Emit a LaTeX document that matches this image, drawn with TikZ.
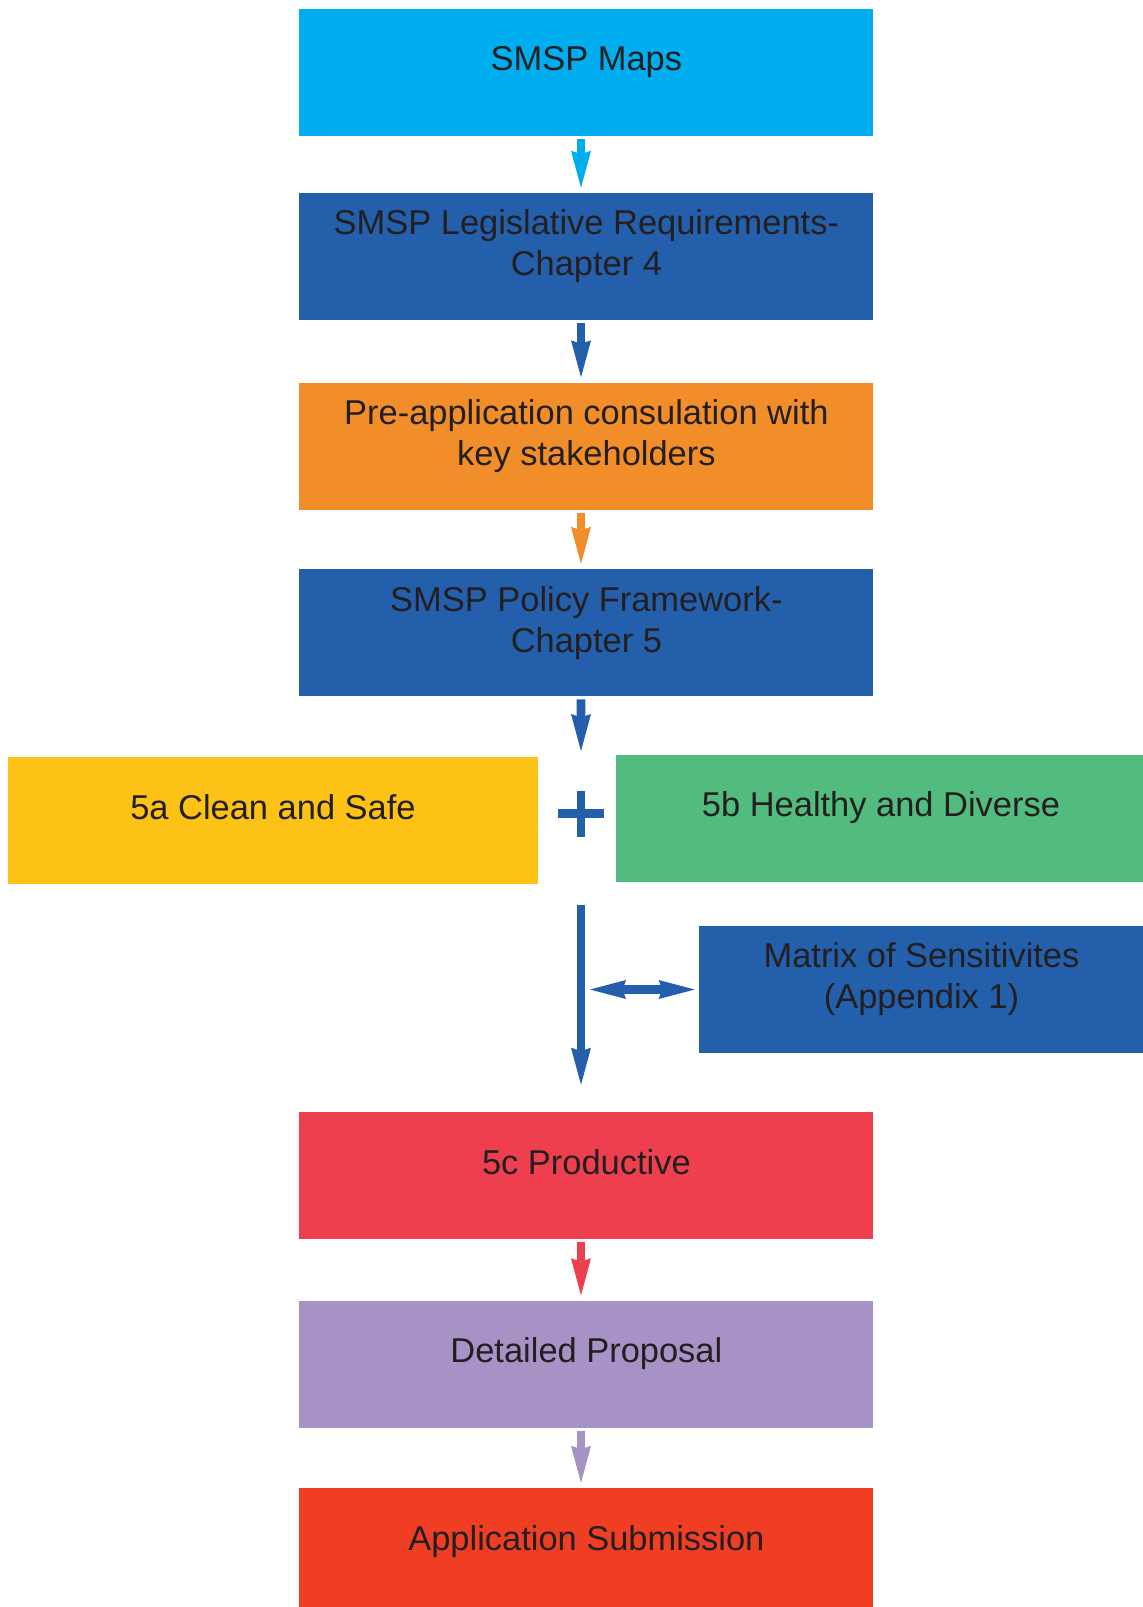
\documentclass[tikz,border=0pt]{standalone}
\usepackage{fontspec}
\setmainfont{Liberation Sans}
\usepackage{xcolor}
\usetikzlibrary{arrows.meta, positioning}
\definecolor{MapCyan}{HTML}{00AEEF}
\definecolor{PlanBlue}{HTML}{245FAC}
\definecolor{ConsultOrange}{HTML}{F28E2A}
\definecolor{CleanYellow}{HTML}{FCC316}
\definecolor{HealthyGreen}{HTML}{52BC7E}
\definecolor{ProductiveRed}{HTML}{EE3F4E}
\definecolor{ProposalLilac}{HTML}{A792C6}
\definecolor{SubmitRed}{HTML}{EF3E24}
\definecolor{BoxText}{HTML}{231F20}

\begin{document}
\begin{tikzpicture}[
  sbox/.style={fill=#1, draw=none, inner sep=0pt, minimum height=3.175cm, align=center, text=BoxText, font=\fontsize{24.5}{29.1}\selectfont, text depth=0.68cm},
  stagebox/.style={sbox=#1, minimum width=14.35cm},
  sidebox/.style={sbox=#1, minimum width=13.25cm},
  flowarrow/.style={-{Stealth[length=0.925cm, width=0.5cm, inset=0.08cm, line width=0pt 0]}, line width=0.22cm, color=#1, shorten <=0.075cm, shorten >=0.125cm},
  linkarrow/.style={{Stealth[length=0.9cm, width=0.475cm, inset=0.08cm, line width=0pt 0]}-{Stealth[length=0.9cm, width=0.475cm, inset=0.08cm, line width=0pt 0]}, line width=0.22cm, color=PlanBlue}
]
\useasboundingbox (0,0) rectangle (28.575,-40.175);

\node[stagebox=MapCyan] (maps) at (14.66,-1.8) {SMSP Maps};
\node[stagebox=PlanBlue, below=1.425cm of maps] (legis) {SMSP Legislative Requirements-\\Chapter 4};
\node[stagebox=ConsultOrange, below=1.55cm of legis] (consult) {Pre-application consulation with\\key stakeholders};
\node[stagebox=PlanBlue, below=1.475cm of consult] (policy) {SMSP Policy Framework-\\Chapter 5};
\node[sidebox=CleanYellow] (clean) at (6.825,-20.5125) {5a Clean and Safe};
\node[sidebox=HealthyGreen] (healthy) at (22.025,-20.45) {5b Healthy and Diverse};
\node[sbox=PlanBlue, minimum width=11.125cm] (matrix) at (23.0375,-24.7375) {Matrix of Sensitivites\\(Appendix 1)};
\node[stagebox=ProductiveRed] (productive) at (14.66,-29.3875) {5c Productive};
\node[stagebox=ProposalLilac, below=1.525cm of productive] (proposal) {Detailed Proposal};
\node[stagebox=SubmitRed, below=1.5cm of proposal] (submit) {Application Submission};

\coordinate (rowtop) at (14.525,-18.9);
\coordinate (plus) at (14.525,-20.3375);
\coordinate (join) at (14.525,-22.625);

\draw[flowarrow=MapCyan] ([xshift=-0.135cm]maps.south) -- ([xshift=-0.135cm]legis.north);
\draw[flowarrow=PlanBlue] ([xshift=-0.135cm]legis.south) -- ([xshift=-0.135cm]consult.north);
\draw[flowarrow=ConsultOrange] ([xshift=-0.135cm]consult.south) -- ([xshift=-0.135cm]policy.north);
\draw[flowarrow=PlanBlue] ([xshift=-0.135cm]policy.south) -- (rowtop);
\draw[PlanBlue, line width=0.21cm] ([xshift=-0.575cm]plus) -- ([xshift=0.575cm]plus) ([yshift=-0.575cm]plus) -- ([yshift=0.575cm]plus);
\draw[flowarrow=PlanBlue, shorten <=0pt, shorten >=0.675cm] (join) -- (join |- productive.north);
\draw[linkarrow, shorten <=0.225cm, shorten >=0.1cm] (join |- matrix.west) -- (matrix.west);
\draw[flowarrow=ProductiveRed] ([xshift=-0.135cm]productive.south) -- ([xshift=-0.135cm]proposal.north);
\draw[flowarrow=ProposalLilac] ([xshift=-0.135cm]proposal.south) -- ([xshift=-0.135cm]submit.north);
\end{tikzpicture}
\end{document}
